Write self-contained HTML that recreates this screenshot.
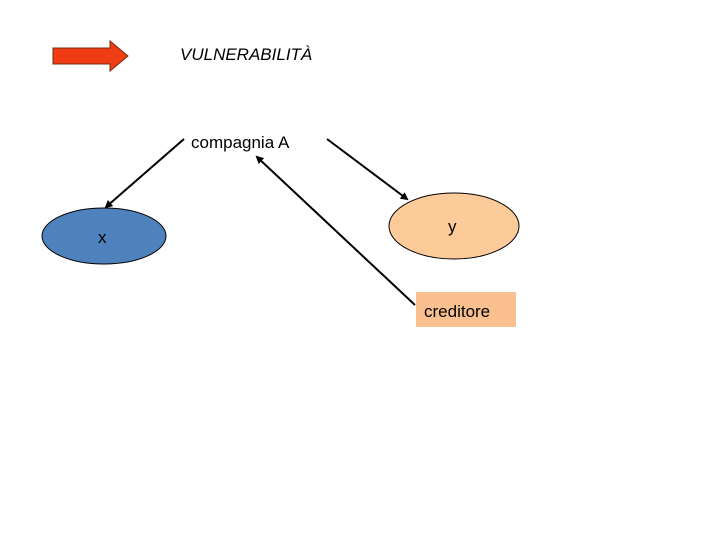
<!DOCTYPE html>
<html><head><style>body{margin:0;background:#fff}</style></head><body>
<svg width="720" height="540" xmlns="http://www.w3.org/2000/svg" style="display:block;font-family:'Liberation Sans',sans-serif">
<defs><marker id="a" markerWidth="8" markerHeight="8" refX="6" refY="4" orient="auto" markerUnits="userSpaceOnUse"><path d="M0,0 L8,4 L0,8z" fill="#000"/></marker></defs>
<polygon points="53,48 110,48 110,41 128,56 110,71 110,64 53,64" fill="#f03c12" stroke="#7a2a10" stroke-width="1"/>
<text x="180" y="60" font-size="17" font-style="italic">VULNERABILITÀ</text>
<text x="191" y="148" font-size="17">compagnia A</text>
<ellipse cx="104" cy="236" rx="62" ry="28" fill="#4f81bd" stroke="#000" stroke-width="1"/>
<text x="98" y="243" font-size="17">x</text>
<ellipse cx="454" cy="226" rx="65" ry="33" fill="#fdcb9a" stroke="#000" stroke-width="1"/>
<text x="448" y="232" font-size="17">y</text>
<rect x="416" y="292" width="100" height="35" fill="#fac090"/>
<text x="424" y="317" font-size="17">creditore</text>
<line x1="184" y1="139" x2="106" y2="207" stroke="#000" stroke-width="2" marker-end="url(#a)"/>
<line x1="327" y1="139" x2="407" y2="199" stroke="#000" stroke-width="2" marker-end="url(#a)"/>
<line x1="415" y1="305" x2="257" y2="157" stroke="#000" stroke-width="2" marker-end="url(#a)"/>
</svg>
</body></html>
